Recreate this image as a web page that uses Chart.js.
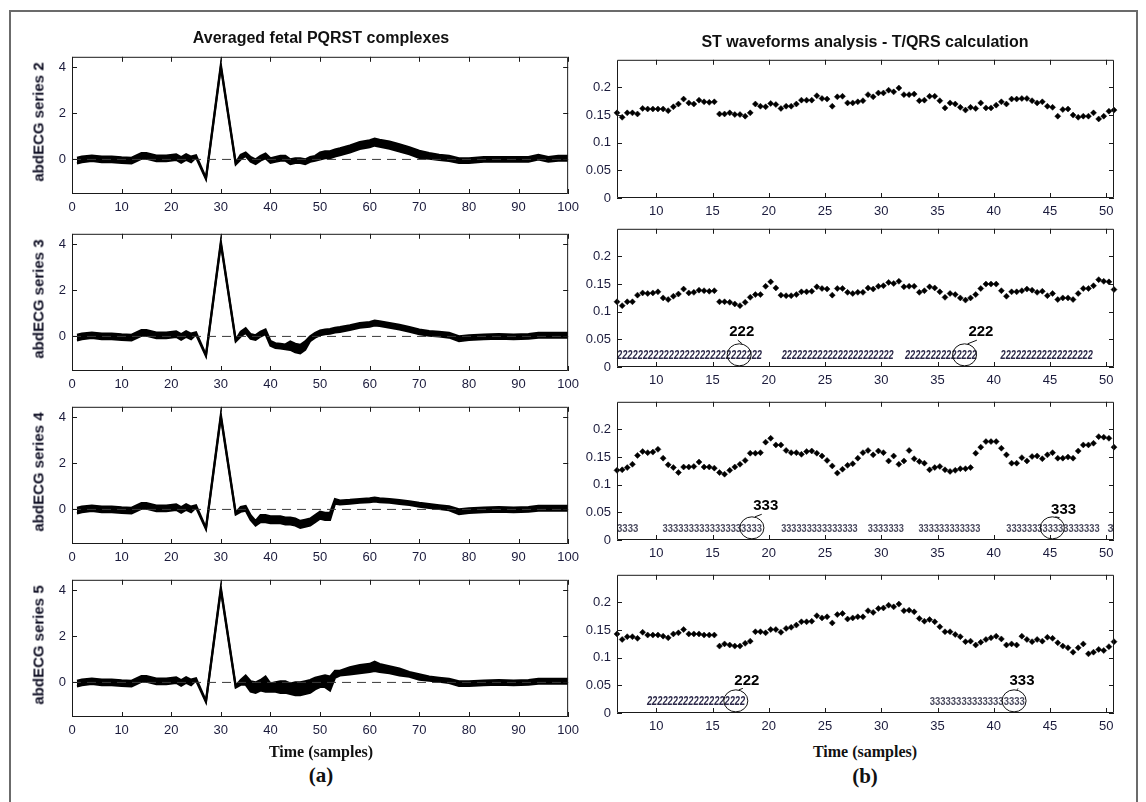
<!DOCTYPE html>
<html>
<head>
<meta charset="utf-8">
<script src="https://cdn.jsdelivr.net/npm/chart.js@4.4.1/dist/chart.umd.min.js"></script>
<style>
  body { margin: 0; background: #fff; }
  #fig { position: relative; width: 1146px; height: 802px; overflow: hidden; background: #fff; font-family: Arial, "Liberation Sans", sans-serif; }
  #frame { position: absolute; left: 9px; top: 10px; width: 1125px; height: 820px; border: 2px solid #6b6b6b; }
  canvas { position: absolute; }
  .txt { position: absolute; white-space: nowrap; transform: translate(-50%, -50%); color: #111; }
  .title { font-weight: bold; font-size: 16px; }
  .ylab { font-weight: bold; font-size: 15px; color: #0d0d22; transform: translate(-50%, -50%) rotate(-90deg); }
  .xlab { font-family: "Liberation Serif", "Times New Roman", serif; font-weight: bold; font-size: 16px; }
  .tag { font-family: "Liberation Serif", "Times New Roman", serif; font-weight: bold; font-size: 21px; }
</style>
</head>
<body>
<div id="fig"><div id="frame"></div></div>
<script>
// ---- left column: averaged PQRST complexes (envelope of the overlaid beats) ----
var ecgT = [1, 2, 4, 6, 8, 10, 12, 14, 15, 17, 19, 21, 22, 23, 24, 25, 27, 30, 33,
  34, 35, 36, 37, 38, 39, 40, 41, 42, 43, 44, 45, 46, 47, 48, 49, 50, 51, 52, 53, 54,
  56, 58, 60, 61, 62, 64, 66, 68, 70, 72, 74, 76, 78, 80, 83, 86, 89, 92, 94, 96, 98, 100];

// samples 1..33 (P wave + QRS), same for every series
var qrsLo = [-0.17, -0.12, -0.07, -0.12, -0.12, -0.15, -0.17, 0.03, 0.03, -0.07, -0.07, -0.02, -0.14, -0.02, -0.12, 0.08, -0.85, 4.0, -0.22];
var qrsHi = [0.07, 0.12, 0.17, 0.12, 0.12, 0.09, 0.07, 0.27, 0.27, 0.17, 0.17, 0.22, 0.1, 0.22, 0.12, 0.18, -0.8, 4.1, -0.15];

// samples 34..100 (ST segment + T wave)
var s2Lo = [0.0, 0.15, -0.1, -0.2, -0.05, 0.05, -0.15, -0.1, -0.05, -0.05, -0.2, -0.15, -0.15, -0.2, -0.1, -0.05, 0.0, 0.05, 0.05, 0.13, 0.18,
  0.3, 0.45, 0.53, 0.6, 0.55, 0.47, 0.35, 0.23, 0.07, 0.03, -0.02, -0.07, -0.15, -0.15, -0.1, -0.1, -0.1, -0.1, 0.0, -0.1, -0.05, -0.05];
var s2Hi = [0.2, 0.3, 0.1, 0.0, 0.15, 0.25, 0.05, 0.1, 0.15, 0.15, 0.0, 0.05, 0.05, 0.0, 0.1, 0.15, 0.3, 0.35, 0.35, 0.43, 0.48,
  0.6, 0.75, 0.83, 0.9, 0.85, 0.77, 0.65, 0.53, 0.37, 0.27, 0.2, 0.15, 0.05, 0.05, 0.1, 0.1, 0.1, 0.1, 0.2, 0.1, 0.15, 0.15];

var s3Lo = [0.0, 0.15, -0.1, -0.15, 0.0, 0.1, -0.4, -0.5, -0.52, -0.55, -0.58, -0.68, -0.73, -0.58, -0.2, -0.05, 0.05, 0.1, 0.12, 0.17, 0.2,
  0.28, 0.38, 0.42, 0.48, 0.45, 0.38, 0.3, 0.2, 0.1, 0.03, 0.0, -0.05, -0.2, -0.15, -0.12, -0.1, -0.12, -0.1, -0.05, -0.05, -0.05, -0.05];
var s3Hi = [0.2, 0.35, 0.1, 0.05, 0.2, 0.3, -0.2, -0.3, -0.32, -0.35, -0.22, -0.32, -0.37, -0.22, 0.0, 0.15, 0.25, 0.3, 0.32, 0.37, 0.4,
  0.48, 0.58, 0.62, 0.68, 0.65, 0.58, 0.5, 0.4, 0.3, 0.23, 0.2, 0.15, 0.0, 0.05, 0.08, 0.1, 0.08, 0.1, 0.15, 0.15, 0.15, 0.15];

var s4Lo = [-0.1, -0.05, -0.45, -0.7, -0.55, -0.55, -0.6, -0.6, -0.6, -0.65, -0.65, -0.7, -0.8, -0.75, -0.7, -0.55, -0.4, -0.45, -0.45, 0.25, 0.22,
  0.25, 0.29, 0.32, 0.35, 0.32, 0.29, 0.24, 0.19, 0.12, 0.07, 0.02, -0.03, -0.2, -0.15, -0.12, -0.1, -0.12, -0.1, -0.05, -0.05, -0.05, -0.05];
var s4Hi = [0.1, 0.15, -0.25, -0.5, -0.25, -0.25, -0.3, -0.3, -0.3, -0.35, -0.35, -0.4, -0.5, -0.45, -0.4, -0.25, -0.1, -0.15, -0.15, 0.45, 0.38,
  0.41, 0.45, 0.48, 0.51, 0.48, 0.45, 0.4, 0.35, 0.28, 0.23, 0.18, 0.13, 0.0, 0.05, 0.08, 0.1, 0.08, 0.1, 0.15, 0.15, 0.15, 0.15];

var s5Lo = [-0.1, -0.1, -0.4, -0.45, -0.35, -0.4, -0.4, -0.4, -0.45, -0.45, -0.5, -0.55, -0.55, -0.5, -0.45, -0.3, -0.2, -0.2, -0.35, 0.2, 0.3,
  0.35, 0.4, 0.45, 0.5, 0.45, 0.4, 0.3, 0.25, 0.12, 0.08, 0.03, -0.02, -0.15, -0.15, -0.12, -0.1, -0.12, -0.1, -0.05, -0.05, -0.05, -0.05];
var s5Hi = [0.1, 0.3, 0.05, 0.0, 0.1, 0.25, -0.05, 0.0, 0.05, 0.05, -0.05, 0.0, 0.0, 0.05, 0.1, 0.2, 0.25, 0.3, 0.25, 0.5, 0.5,
  0.65, 0.75, 0.8, 0.9, 0.8, 0.7, 0.6, 0.45, 0.35, 0.25, 0.2, 0.15, 0.05, 0.05, 0.08, 0.1, 0.08, 0.1, 0.15, 0.15, 0.15, 0.15];

var zeroLine = [0, 100];

// ---- right column: T/QRS ratio per beat ----
var tq = [6.51, 6.97, 7.42, 7.88, 8.33, 8.79, 9.24, 9.70, 10.15, 10.61, 11.06, 11.52, 11.97, 12.43, 12.89, 13.34, 13.80, 14.25, 14.71, 15.16,
  15.62, 16.07, 16.53, 16.98, 17.44, 17.90, 18.35, 18.81, 19.26, 19.72, 20.17, 20.63, 21.08, 21.54, 21.99, 22.45, 22.90, 23.36, 23.82, 24.27,
  24.73, 25.18, 25.64, 26.09, 26.55, 27.00, 27.46, 27.91, 28.37, 28.82, 29.28, 29.74, 30.19, 30.65, 31.10, 31.56, 32.01, 32.47, 32.92, 33.38,
  33.83, 34.29, 34.75, 35.20, 35.66, 36.11, 36.57, 37.02, 37.48, 37.93, 38.39, 38.84, 39.30, 39.75, 40.21, 40.67, 41.12, 41.58, 42.03, 42.49,
  42.94, 43.40, 43.85, 44.31, 44.76, 45.22, 45.68, 46.13, 46.59, 47.04, 47.50, 47.95, 48.41, 48.86, 49.32, 49.77, 50.23, 50.68];

var tqr2 = [0.154, 0.146, 0.154, 0.154, 0.152, 0.162, 0.161, 0.161, 0.161, 0.161, 0.158, 0.165, 0.170, 0.179, 0.172, 0.170, 0.177, 0.174, 0.173, 0.174,
  0.152, 0.152, 0.154, 0.151, 0.151, 0.148, 0.154, 0.170, 0.166, 0.165, 0.171, 0.169, 0.162, 0.166, 0.166, 0.170, 0.177, 0.177, 0.177, 0.185,
  0.180, 0.179, 0.166, 0.183, 0.184, 0.172, 0.172, 0.174, 0.176, 0.187, 0.183, 0.190, 0.190, 0.195, 0.192, 0.199, 0.187, 0.187, 0.188, 0.176,
  0.177, 0.184, 0.184, 0.176, 0.163, 0.172, 0.170, 0.164, 0.159, 0.164, 0.162, 0.172, 0.163, 0.163, 0.168, 0.174, 0.170, 0.179, 0.179, 0.180,
  0.180, 0.176, 0.172, 0.174, 0.166, 0.164, 0.148, 0.160, 0.161, 0.150, 0.146, 0.148, 0.148, 0.154, 0.143, 0.148, 0.157, 0.159];
var tqr3 = [0.118, 0.111, 0.118, 0.118, 0.130, 0.134, 0.133, 0.134, 0.136, 0.125, 0.122, 0.128, 0.132, 0.141, 0.134, 0.135, 0.139, 0.138, 0.137, 0.138,
  0.118, 0.118, 0.117, 0.114, 0.111, 0.117, 0.126, 0.131, 0.131, 0.146, 0.154, 0.143, 0.130, 0.129, 0.129, 0.131, 0.136, 0.136, 0.137, 0.145,
  0.142, 0.141, 0.130, 0.142, 0.142, 0.135, 0.133, 0.135, 0.135, 0.143, 0.141, 0.146, 0.147, 0.153, 0.151, 0.155, 0.145, 0.146, 0.146, 0.135,
  0.138, 0.145, 0.143, 0.136, 0.126, 0.133, 0.131, 0.125, 0.121, 0.125, 0.131, 0.142, 0.150, 0.150, 0.150, 0.138, 0.128, 0.136, 0.136, 0.138,
  0.141, 0.139, 0.135, 0.137, 0.129, 0.133, 0.122, 0.125, 0.125, 0.122, 0.133, 0.142, 0.142, 0.147, 0.158, 0.155, 0.154, 0.140];
var tqr4 = [0.126, 0.127, 0.131, 0.137, 0.153, 0.160, 0.158, 0.159, 0.164, 0.148, 0.136, 0.131, 0.122, 0.132, 0.132, 0.133, 0.141, 0.132, 0.132, 0.130,
  0.122, 0.119, 0.126, 0.132, 0.137, 0.144, 0.157, 0.157, 0.158, 0.177, 0.184, 0.172, 0.172, 0.162, 0.158, 0.158, 0.155, 0.160, 0.161, 0.157,
  0.152, 0.144, 0.134, 0.121, 0.128, 0.135, 0.138, 0.148, 0.158, 0.162, 0.154, 0.161, 0.158, 0.143, 0.152, 0.137, 0.143, 0.162, 0.147, 0.142,
  0.139, 0.127, 0.131, 0.133, 0.127, 0.124, 0.126, 0.129, 0.129, 0.131, 0.157, 0.168, 0.178, 0.178, 0.178, 0.166, 0.154, 0.139, 0.139, 0.149,
  0.143, 0.151, 0.152, 0.147, 0.154, 0.158, 0.148, 0.148, 0.150, 0.148, 0.161, 0.172, 0.172, 0.175, 0.187, 0.186, 0.184, 0.168];
var tqr5 = [0.143, 0.133, 0.138, 0.138, 0.135, 0.146, 0.141, 0.141, 0.141, 0.139, 0.136, 0.143, 0.145, 0.151, 0.143, 0.143, 0.143, 0.141, 0.141, 0.141,
  0.121, 0.125, 0.123, 0.121, 0.121, 0.126, 0.130, 0.147, 0.147, 0.145, 0.151, 0.151, 0.146, 0.153, 0.155, 0.159, 0.165, 0.165, 0.166, 0.176,
  0.172, 0.174, 0.163, 0.178, 0.180, 0.170, 0.172, 0.174, 0.174, 0.185, 0.182, 0.189, 0.190, 0.195, 0.192, 0.197, 0.185, 0.186, 0.183, 0.171,
  0.166, 0.169, 0.165, 0.156, 0.147, 0.147, 0.142, 0.138, 0.129, 0.130, 0.123, 0.128, 0.133, 0.136, 0.139, 0.134, 0.123, 0.125, 0.123, 0.139,
  0.133, 0.129, 0.133, 0.130, 0.137, 0.135, 0.127, 0.121, 0.118, 0.110, 0.118, 0.125, 0.107, 0.110, 0.115, 0.113, 0.120, 0.129];

// class runs [from, to, label] and circled marks [x, labelX, labelY, text]
var runs3 = [[6.51, 19.4, '2'], [21.15, 31.1, '2'], [32.1, 38.5, '2'], [40.6, 48.8, '2']];
var rings3 = [[17.37, 17.6, 0.063, '222'], [37.4, 38.85, 0.063, '222']];
var runs4 = [[6.51, 8.4, '3'], [10.56, 19.4, '3'], [21.1, 27.9, '3'], [28.8, 32.0, '3'], [33.3, 38.8, '3'], [41.1, 49.4, '3'], [50.1, 50.68, '3']];
var rings4 = [[18.5, 19.73, 0.061, '333'], [45.2, 46.2, 0.055, '333']];
var runs5 = [[9.17, 17.9, '2'], [34.3, 42.75, '3']];
var rings5 = [[17.07, 18.05, 0.059, '222'], [41.8, 42.5, 0.059, '333']];

// tick labels
var ecgXTicks = [0, 10, 20, 30, 40, 50, 60, 70, 80, 90, 100];
var ecgYTicks = [0, 2, 4];
var tqXTicks = [10, 15, 20, 25, 30, 35, 40, 45, 50];
var tqYTicks = [0, 0.05, 0.1, 0.15, 0.2];

var fig = document.getElementById('fig');
var PAD_T = 8, PAD_R = 14, PAD_B = 26;

// MATLAB style box with inward ticks on all four sides
var matlabBox = {
  id: 'matlabBox',
  afterDraw: function (chart) {
    var ctx = chart.ctx, a = chart.chartArea, x = chart.scales.x, y = chart.scales.y;
    ctx.save();
    ctx.strokeStyle = '#1a1a1a';
    ctx.lineWidth = 1;
    ctx.beginPath();
    ctx.rect(a.left + 0.5, a.top + 0.5, a.right - a.left - 1, a.bottom - a.top - 1);
    x.ticks.forEach(function (t) {
      var p = Math.round(x.getPixelForValue(t.value)) + 0.5;
      ctx.moveTo(p, a.bottom); ctx.lineTo(p, a.bottom - 5);
      ctx.moveTo(p, a.top); ctx.lineTo(p, a.top + 5);
    });
    y.ticks.forEach(function (t) {
      var p = Math.round(y.getPixelForValue(t.value)) + 0.5;
      ctx.moveTo(a.left, p); ctx.lineTo(a.left + 5, p);
      ctx.moveTo(a.right, p); ctx.lineTo(a.right - 5, p);
    });
    ctx.stroke();
    ctx.restore();
  }
};

// hatched class strings along the bottom, with circled labels
function classMarks(runs, rings) {
  return {
    id: 'classMarks',
    afterDatasetsDraw: function (chart) {
      var ctx = chart.ctx, x = chart.scales.x, y = chart.scales.y;
      var base = y.getPixelForValue(0.0143), ringY = y.getPixelForValue(0.022);
      ctx.save();
      ctx.textAlign = 'left';
      ctx.textBaseline = 'alphabetic';
      runs.forEach(function (r) {
        var x0 = x.getPixelForValue(r[0]), x1 = x.getPixelForValue(r[1]);
        var n = Math.max(1, Math.round((x1 - x0) / 5.2));
        ctx.font = r[2] === '2' ? 'bold italic 12px Arial' : 'bold 11px Arial';
        ctx.fillStyle = r[2] === '2' ? '#2b2848' : '#4a4a5e';
        ctx.fillText(r[2].repeat(n), x0, base, x1 - x0);
      });
      ctx.strokeStyle = '#111';
      ctx.lineWidth = 1;
      ctx.fillStyle = '#000';
      ctx.font = 'bold 15px Arial';
      ctx.textAlign = 'center';
      ctx.textBaseline = 'middle';
      rings.forEach(function (r) {
        var cx = x.getPixelForValue(r[0]), lx = x.getPixelForValue(r[1]), ly = y.getPixelForValue(r[2]);
        ctx.beginPath();
        ctx.ellipse(cx, ringY, 12, 11, 0, 0, Math.PI * 2);
        ctx.moveTo(lx - 4, ly + 8);
        ctx.lineTo(cx + 3, ringY - 11);
        ctx.stroke();
        ctx.fillText(r[3], lx, ly);
      });
      ctx.restore();
    }
  };
}

function axisCfg(min, max, ticks, pad, fit) {
  return {
    type: 'linear', min: min, max: max,
    grid: { display: false, drawTicks: false },
    border: { display: false },
    afterBuildTicks: function (s) { s.ticks = ticks.map(function (v) { return { value: v }; }); },
    afterFit: fit,
    ticks: {
      autoSkip: false, maxRotation: 0, padding: pad, color: '#1b1b3c',
      font: { family: 'Arial', size: 13 },
      callback: function (v) { return String(v); }
    }
  };
}

function makePanel(box, padL, xr, yr, datasets, extra) {
  var cv = document.createElement('canvas');
  cv.width = box.w + padL + PAD_R;
  cv.height = box.h + PAD_T + PAD_B;
  cv.style.left = (box.x - padL) + 'px';
  cv.style.top = (box.y - PAD_T) + 'px';
  fig.appendChild(cv);
  var plugins = [matlabBox];
  if (extra) plugins.push(extra);
  return new Chart(cv, {
    type: 'line',
    data: { datasets: datasets },
    options: {
      responsive: false, animation: false, devicePixelRatio: 1,
      layout: { padding: { top: PAD_T, right: PAD_R, left: 0, bottom: 0 } },
      plugins: { legend: { display: false }, tooltip: { enabled: false } },
      scales: {
        x: axisCfg(xr[0], xr[1], xr[2], 6, function (s) { s.height = PAD_B; }),
        y: axisCfg(yr[0], yr[1], yr[2], 6, function (s) { s.width = padL; })
      }
    },
    plugins: plugins
  });
}

function ecgSets(lo, hi) {
  var l = qrsLo.concat(lo), h = qrsHi.concat(hi);
  return [
    { data: zeroLine.map(function (t) { return { x: t, y: 0 }; }), borderColor: '#3a3a3a', borderWidth: 1, borderDash: [9, 6], pointRadius: 0 },
    { data: ecgT.map(function (t, i) { return { x: t, y: l[i] }; }), borderColor: '#000', borderWidth: 2.2, pointRadius: 0, fill: false },
    { data: ecgT.map(function (t, i) { return { x: t, y: h[i] }; }), borderColor: '#000', borderWidth: 2.2, pointRadius: 0, fill: '-1', backgroundColor: '#000' }
  ];
}

function tqSet(vals) {
  return [{
    data: tq.map(function (t, i) { return { x: t, y: vals[i] }; }),
    showLine: false, pointStyle: 'rectRot', pointRadius: 3, pointHoverRadius: 3,
    pointBackgroundColor: '#000', pointBorderColor: '#000', pointBorderWidth: 0.5, clip: false
  }];
}

function addText(cls, text, x, y) {
  var d = document.createElement('div');
  d.className = 'txt ' + cls;
  d.textContent = text;
  d.style.left = x + 'px';
  d.style.top = y + 'px';
  fig.appendChild(d);
}

var leftTops = [51, 228, 401, 574];
var rightTops = [54, 223, 396, 569];
var ecgLo = [s2Lo, s3Lo, s4Lo, s5Lo], ecgHi = [s2Hi, s3Hi, s4Hi, s5Hi];
var tqAll = [tqr2, tqr3, tqr4, tqr5];
var marks = [null, classMarks(runs3, rings3), classMarks(runs4, rings4), classMarks(runs5, rings5)];
var seriesNames = ['abdECG series 2', 'abdECG series 3', 'abdECG series 4', 'abdECG series 5'];

for (var k = 0; k < 4; k++) {
  makePanel({ x: 72, y: leftTops[k], w: 499, h: 143 }, 50,
    [0, 100, ecgXTicks], [-1.5, 4.45, ecgYTicks], ecgSets(ecgLo[k], ecgHi[k]), null);
  makePanel({ x: 617, y: rightTops[k], w: 497, h: 144 }, 46,
    [6.51, 50.68, tqXTicks], [0, 0.25, tqYTicks], tqSet(tqAll[k]), marks[k]);
  addText('ylab', seriesNames[k], 38, leftTops[k] + 71);
}

addText('title', 'Averaged fetal PQRST complexes', 321, 38);
addText('title', 'ST waveforms analysis - T/QRS calculation', 865, 42);
addText('xlab', 'Time (samples)', 321, 752);
addText('xlab', 'Time (samples)', 865, 752);
addText('tag', '(a)', 321, 775);
addText('tag', '(b)', 865, 776);
</script>
</body>
</html>
